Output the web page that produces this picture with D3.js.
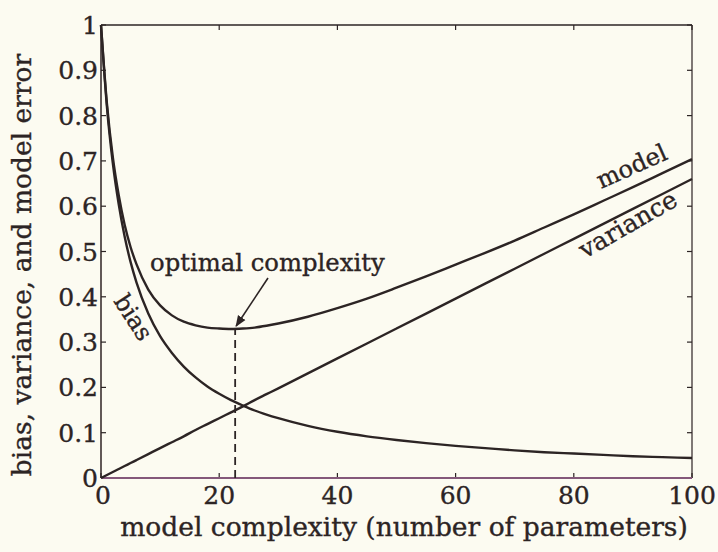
<!DOCTYPE html>
<html>
<head>
<meta charset="utf-8">
<script src="https://cdn.jsdelivr.net/npm/d3@7/dist/d3.min.js"></script>
<style>
  html, body { margin: 0; padding: 0; background: #fcfbf1; }
  svg { display: block; }
  text { font-family: "DejaVu Serif", "Liberation Serif", serif; fill: #2c2424;
         stroke: #2c2424; stroke-width: 0.35; }
</style>
</head>
<body>
<svg id="chart" width="718" height="552"></svg>
<script>
// Model complexity (number of parameters)
const complexity = [0, 1, 2, 3, 4, 5, 6, 8, 10, 12, 14, 16, 18, 20, 22, 24, 26, 28, 30,
  35, 40, 45, 50, 55, 60, 65, 70, 75, 80, 85, 90, 95, 100];
// Bias falls off steeply with complexity
const bias = [1.00, 0.820, 0.695, 0.604, 0.533, 0.477, 0.432, 0.363, 0.313, 0.276, 0.246,
  0.222, 0.202, 0.186, 0.172, 0.160, 0.149, 0.140, 0.132, 0.115, 0.102, 0.092, 0.084,
  0.077, 0.071, 0.066, 0.061, 0.057, 0.054, 0.051, 0.048, 0.046, 0.044];
// Variance grows linearly
const variance = [0, 0.0066, 0.0132, 0.0198, 0.0264, 0.033, 0.0396, 0.0528, 0.066, 0.079,
  0.092, 0.106, 0.119, 0.132, 0.145, 0.158, 0.172, 0.185, 0.198, 0.231, 0.264, 0.297,
  0.330, 0.363, 0.396, 0.429, 0.462, 0.495, 0.528, 0.561, 0.594, 0.627, 0.660];
// Total model error
const modelError = [1.00, 0.827, 0.708, 0.624, 0.559, 0.510, 0.472, 0.416, 0.381, 0.359,
  0.345, 0.337, 0.332, 0.330, 0.329, 0.330, 0.332, 0.336, 0.341, 0.356, 0.375, 0.396,
  0.420, 0.445, 0.471, 0.497, 0.524, 0.553, 0.582, 0.612, 0.642, 0.673, 0.704];
const optimal = { x: 22.7, y: 0.329 };
const xTicks = [0, 20, 40, 60, 80, 100];
const yTicks = [0, 0.1, 0.2, 0.3, 0.4, 0.5, 0.6, 0.7, 0.8, 0.9, 1];
const yTickLabels = ["0", "0.1", "0.2", "0.3", "0.4", "0.5", "0.6", "0.7", "0.8", "0.9", "1"];

const ink = "#2c2424";
const svg = d3.select("#chart");
const x = d3.scaleLinear().domain([0, 100]).range([101, 692]);
const y = d3.scaleLinear().domain([0, 1]).range([478, 25]);

// frame: top / right / left
svg.append("line").attr("x1", x(0)).attr("x2", x(100)).attr("y1", y(1)).attr("y2", y(1))
  .attr("stroke", ink).attr("stroke-width", 1.6);
svg.append("line").attr("x1", x(100)).attr("x2", x(100)).attr("y1", y(0)).attr("y2", y(1))
  .attr("stroke", "#4a4040").attr("stroke-width", 1.4);
svg.append("line").attr("x1", x(0)).attr("x2", x(0)).attr("y1", y(0)).attr("y2", y(1))
  .attr("stroke", "#3a3030").attr("stroke-width", 1.6);

// inward ticks on left / right / bottom / top
const tl = 5;
yTicks.forEach(v => {
  svg.append("line").attr("x1", x(0)).attr("x2", x(0) + tl).attr("y1", y(v)).attr("y2", y(v))
    .attr("stroke", ink).attr("stroke-width", 1.2);
  svg.append("line").attr("x1", x(100)).attr("x2", x(100) - tl).attr("y1", y(v)).attr("y2", y(v))
    .attr("stroke", ink).attr("stroke-width", 1.2);
});
xTicks.forEach(v => {
  svg.append("line").attr("x1", x(v)).attr("x2", x(v)).attr("y1", y(0)).attr("y2", y(0) - tl)
    .attr("stroke", ink).attr("stroke-width", 1.2);
  svg.append("line").attr("x1", x(v)).attr("x2", x(v)).attr("y1", y(1)).attr("y2", y(1) + tl)
    .attr("stroke", ink).attr("stroke-width", 1.2);
});

// bottom axis line
svg.append("line").attr("x1", x(0)).attr("x2", x(100)).attr("y1", y(0)).attr("y2", y(0))
  .attr("stroke", "#84587a").attr("stroke-width", 2);

// tick labels
yTicks.forEach((v, i) => {
  svg.append("text").attr("x", x(0) - 3).attr("y", y(v) + 9)
    .attr("text-anchor", "end").attr("font-size", 25).text(yTickLabels[i]);
});
xTicks.forEach(v => {
  svg.append("text").attr("x", x(v) + (v === 0 ? 2 : 0)).attr("y", 504)
    .attr("text-anchor", "middle").attr("font-size", 25).text(v);
});

// axis titles
svg.append("text").attr("x", 404).attr("y", 536).attr("text-anchor", "middle")
  .attr("font-size", 26.5).text("model complexity (number of parameters)");
svg.append("text").attr("transform", "translate(31,265) rotate(-90)")
  .attr("text-anchor", "middle").attr("font-size", 26.5).text("bias, variance, and model error");

// curves
const pts = vals => complexity.map((c, i) => [c, vals[i]]);
const line = d3.line().x(d => x(d[0])).y(d => y(d[1])).curve(d3.curveMonotoneX);
[bias, variance, modelError].forEach(vals => {
  svg.append("path").attr("d", line(pts(vals))).attr("fill", "none")
    .attr("stroke", ink).attr("stroke-width", 2.4);
});

// optimal complexity marker
svg.append("line").attr("x1", x(optimal.x)).attr("x2", x(optimal.x))
  .attr("y1", y(0)).attr("y2", y(optimal.y))
  .attr("stroke", ink).attr("stroke-width", 1.8).attr("stroke-dasharray", "8,5");

svg.append("defs").append("marker").attr("id", "arrow")
  .attr("viewBox", "0 0 10 10").attr("refX", 9).attr("refY", 5)
  .attr("markerWidth", 7).attr("markerHeight", 7).attr("orient", "auto")
  .append("path").attr("d", "M0,1 L10,5 L0,9 Z").attr("fill", ink);
svg.append("line").attr("x1", 268).attr("y1", 278)
  .attr("x2", x(optimal.x) + 1).attr("y2", y(optimal.y) - 3)
  .attr("stroke", ink).attr("stroke-width", 1.6).attr("marker-end", "url(#arrow)");

svg.append("text").attr("x", 150).attr("y", 271).attr("font-size", 24.3).text("optimal complexity");

// curve labels
svg.append("text").attr("transform", "translate(113,301) rotate(57)")
  .attr("font-size", 24).text("bias");
svg.append("text").attr("transform", "translate(601,189) rotate(-24)")
  .attr("font-size", 24).text("model");
svg.append("text").attr("transform", "translate(585,259) rotate(-30)")
  .attr("font-size", 25).text("variance");
</script>
</body>
</html>
